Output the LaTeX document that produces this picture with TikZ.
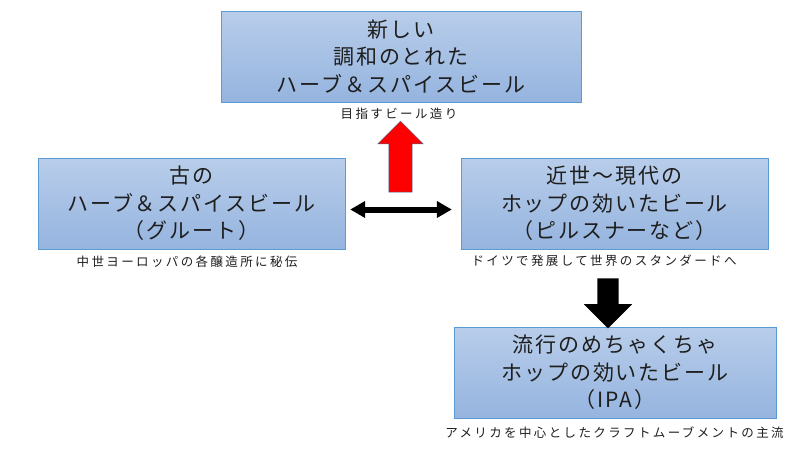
\documentclass[tikz,border=0pt]{standalone}
\usepackage{fontspec}
\usepackage{xcolor}
\newfontfamily\jpfont[LetterSpace=9]{Noto Sans CJK JP}
\newfontfamily\jpsmall[LetterSpace=19]{Noto Sans CJK JP}
\usetikzlibrary{shapes.arrows,arrows.meta}
\definecolor{boxtop}{RGB}{184,205,234}
\definecolor{boxbot}{RGB}{149,180,223}
\definecolor{boxline}{RGB}{91,155,213}
\definecolor{inktext}{RGB}{30,30,30}
\definecolor{arrowline}{RGB}{65,113,156}

\begin{document}
\begin{tikzpicture}[x=1pt, y=-1pt,
    box/.style={draw=boxline, top color=boxtop, bottom color=boxbot,
        minimum height=91pt, align=center, text=inktext, inner sep=0pt,
        font=\jpfont\fontsize{21}{27.5}\selectfont},
    note/.style={text=inktext, inner sep=0pt, font=\jpsmall\fontsize{12.5}{14}\selectfont},
    blockarrow/.style={single arrow, inner xsep=0pt},
    twoway/.style={line width=6pt, {Triangle[length=15pt,width=16pt]}-{Triangle[length=15pt,width=16pt]}}]
    \useasboundingbox (0,0) rectangle (800,450);

    % Goal
    \node[box, minimum width=360pt] (new) at (401,56.5) {新しい\\調和のとれた\\ハーブ＆スパイスビール};
    \node[note] (newnote) at (399,114) {目指すビール造り};

    % Gruit
    \node[box, minimum width=307pt] (old) at (191.5,203.5) {古の\\ハーブ＆スパイスビール\\（グルート）};
    \node[note] (oldnote) at (187,262) {中世ヨーロッパの各醸造所に秘伝};

    % Pilsner
    \node[box, minimum width=307pt] (mod) at (614.5,203.5) {近世〜現代の\\ホップの効いたビール\\（ピルスナーなど）};
    \node[note] (modnote) at (604,261) {ドイツで発展して世界のスタンダードへ};

    % IPA
    \node[box, minimum width=322pt] (ipa) at (615,372.5) {流行のめちゃくちゃ\\ホップの効いたビール\\（IPA）};
    \node[note] (ipanote) at (614.5,433) {アメリカを中心としたクラフトムーブメントの主流};

    % Arrows
    \node[blockarrow, rotate=90, fill=red, draw=arrowline, inner ysep=11.5pt,
        minimum height=71pt, single arrow head extend=11pt] (up) at (400.5,162.5) {};
    \node[blockarrow, rotate=-90, fill=black, inner ysep=10.5pt,
        minimum height=50pt, single arrow head extend=13.5pt] (down) at (608,298) {};
    \draw[twoway] ([xshift=5pt, yshift=-6pt]old.east) -- ([xshift=-9pt, yshift=-6pt]mod.west);
\end{tikzpicture}
\end{document}
